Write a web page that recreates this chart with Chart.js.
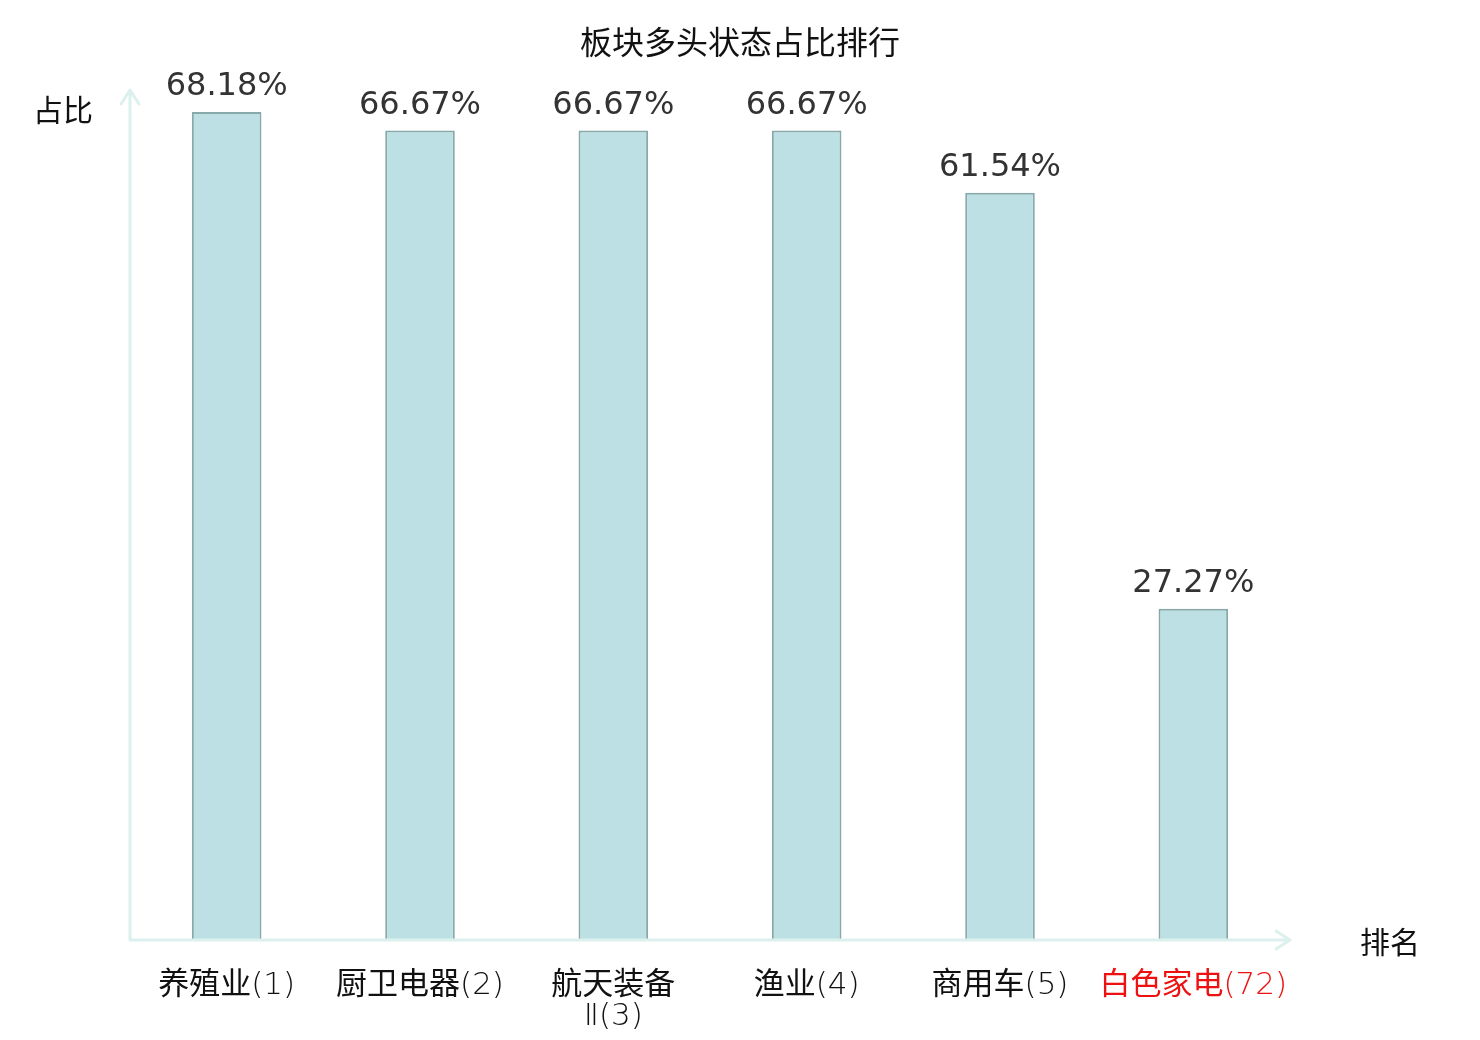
<!DOCTYPE html>
<html>
<head>
<meta charset="utf-8">
<script src="https://cdn.jsdelivr.net/npm/chart.js@4/dist/chart.umd.min.js"></script>
<style>
html,body{margin:0;padding:0;background:#fff;}
#wrap{width:1480px;height:1040px;position:relative;}
</style>
</head>
<body>
<div id="wrap"><canvas id="c" width="1480" height="1040"></canvas></div>
<script>
const chartTitle = '板块多头状态占比排行';
const categories = [['养殖业(1)'], ['厨卫电器(2)'], ['航天装备', 'Ⅱ(3)'], ['渔业(4)'], ['商用车(5)'], ['白色家电(72)']];
const values = [68.18, 66.67, 66.67, 66.67, 61.54, 27.27];
const labelColors = ['#111', '#111', '#111', '#111', '#111', '#ee1111'];
const yAxisName = '占比';
const xAxisName = '排名';

const FONT = '"Noto Sans CJK SC", "DejaVu Sans", sans-serif';

const decor = {
  id: 'decor',
  afterDatasetsDraw(chart) {
    const ctx = chart.ctx;
    const a = chart.chartArea;
    ctx.save();
    // title
    ctx.fillStyle = '#111';
    ctx.font = '32px ' + FONT;
    ctx.textAlign = 'center';
    ctx.textBaseline = 'middle';
    ctx.fillText(chartTitle, chart.width / 2, 42);
    // axes
    ctx.strokeStyle = '#dcf0ee';
    ctx.lineWidth = 3;
    ctx.lineCap = 'round';
    ctx.lineJoin = 'round';
    ctx.beginPath();
    ctx.moveTo(a.left, a.bottom);
    ctx.lineTo(a.left, a.top);
    ctx.moveTo(a.left - 9, a.top + 14);
    ctx.lineTo(a.left, a.top);
    ctx.lineTo(a.left + 9, a.top + 14);
    ctx.moveTo(a.left, a.bottom);
    ctx.lineTo(a.right, a.bottom);
    ctx.moveTo(a.right - 14, a.bottom - 9);
    ctx.lineTo(a.right, a.bottom);
    ctx.lineTo(a.right - 14, a.bottom + 9);
    ctx.stroke();
    // value labels
    const meta = chart.getDatasetMeta(0);
    ctx.fillStyle = '#333';
    ctx.font = '32px "DejaVu Sans", sans-serif';
    ctx.textAlign = 'center';
    ctx.textBaseline = 'bottom';
    meta.data.forEach((bar, i) => {
      ctx.fillText(values[i].toFixed(2) + '%', bar.x, bar.y - 9);
    });
    // axis names
    ctx.fillStyle = '#111';
    ctx.font = '30px ' + FONT;
    ctx.textBaseline = 'middle';
    ctx.textAlign = 'left';
    ctx.fillText(yAxisName, 33, a.top + 20);
    ctx.fillText(xAxisName, 1360, a.bottom + 2);
    ctx.restore();
  }
};

new Chart(document.getElementById('c'), {
  type: 'bar',
  data: {
    labels: categories,
    datasets: [{
      data: values,
      backgroundColor: '#bce0e3',
      borderColor: '#88a9aa',
      borderWidth: 2,
      barPercentage: 0.36,
      categoryPercentage: 1.0
    }]
  },
  options: {
    responsive: false,
    animation: false,
    layout: { padding: { left: 130, right: 190, top: 90, bottom: 0 } },
    plugins: {
      legend: { display: false },
      tooltip: { enabled: false },
      title: { display: false }
    },
    scales: {
      x: {
        grid: { display: false },
        border: { display: false },
        afterFit(scale) { scale.height = 100; },
        ticks: {
          color: labelColors,
          font: { family: '"DejaVu Sans Light", "Noto Sans CJK SC", sans-serif', size: 31, weight: 'normal', lineHeight: 1.0 },
          padding: 22,
          maxRotation: 0,
          autoSkip: false
        }
      },
      y: {
        display: false,
        min: 0,
        max: 70
      }
    }
  },
  plugins: [decor]
});
</script>
</body>
</html>
